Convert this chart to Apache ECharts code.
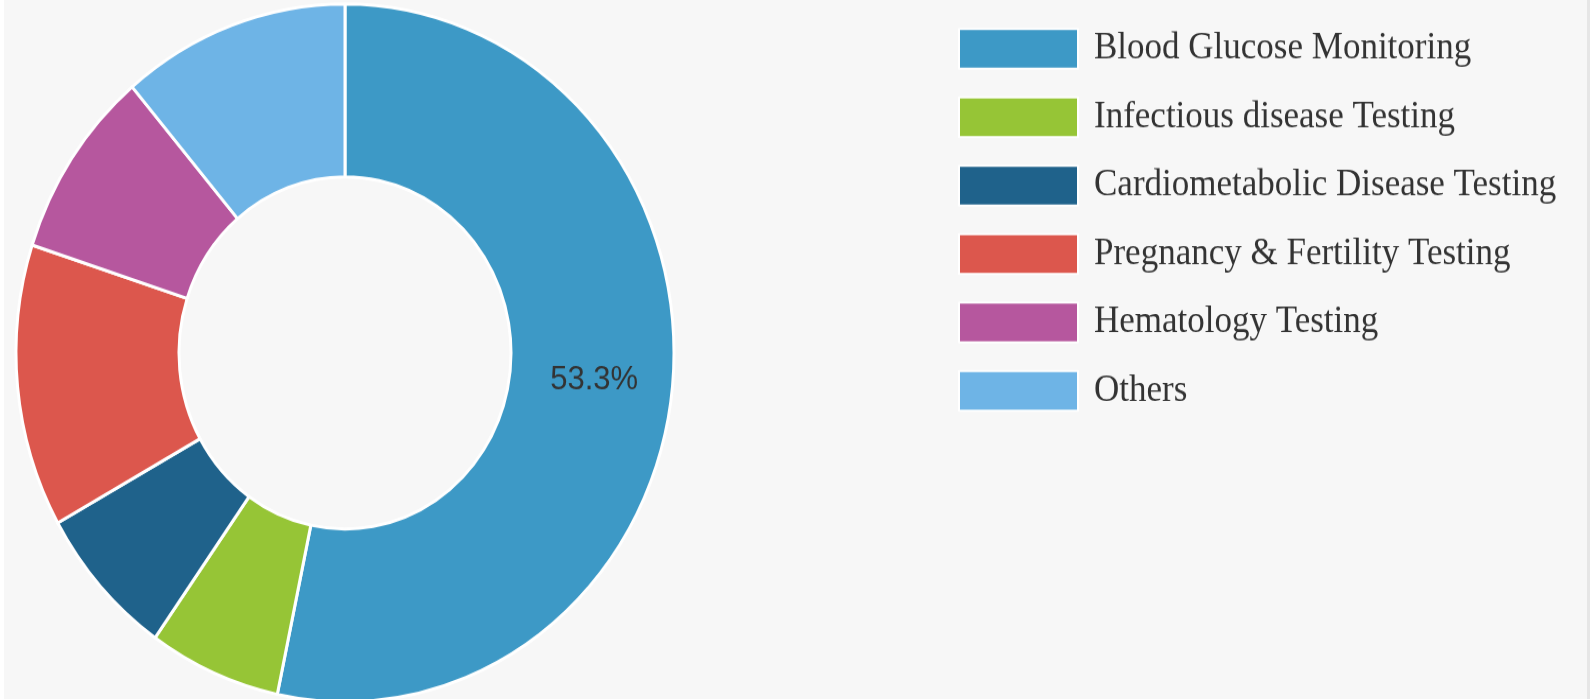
<!DOCTYPE html>
<html>
<head>
<meta charset="utf-8">
<script src="https://cdn.jsdelivr.net/npm/echarts@6/dist/echarts.min.js"></script>
<style>
  html, body { margin: 0; padding: 0; background: #ffffff; overflow: hidden; }
  #frame {
    position: absolute; left: 4px; top: 0;
    width: 1583px; height: 699px;
    background: #f7f7f7;
    border-right: 3px solid #e6e6e6;
    overflow: hidden;
  }
  /* the chart is laid out at 659px tall and stretched to the 699px frame */
  #chart {
    position: absolute; left: 0; top: 0;
    width: 1583px; height: 659px;
    transform: scaleY(1.0607);
    transform-origin: 0 0;
  }
</style>
</head>
<body>
<div id="frame"><div id="chart"></div></div>
<script>
// Market share by test type (%)
const categories = [
  'Blood Glucose Monitoring',
  'Infectious disease Testing',
  'Cardiometabolic Disease Testing',
  'Pregnancy & Fertility Testing',
  'Hematology Testing',
  'Others'
];
const shares = [53.3, 6.5, 7.1, 13.1, 8.8, 11.2];
const palette = ['#3d99c6', '#96c536', '#1f628b', '#dc574d', '#b6579e', '#6eb4e6'];
// only the leading segment carries a value label
const labelled = [true, false, false, false, false, false];

const chart = echarts.init(document.getElementById('chart'), null, { renderer: 'canvas' });

const data = categories.map((name, i) => ({
  name: name,
  value: shares[i],
  itemStyle: { color: palette[i] },
  label: { show: labelled[i] }
}));

chart.setOption({
  backgroundColor: '#f7f7f7',
  animation: false,
  legend: {
    orient: 'vertical',
    left: 954,
    top: 26.2,
    padding: 0,
    itemWidth: 119,
    itemHeight: 37.5,
    itemGap: 25.0,
    icon: 'rect',
    data: categories,
    textStyle: {
      fontFamily: '"Liberation Serif", "Times New Roman", serif',
      fontSize: 35,
      lineHeight: 36,
      color: '#333333',
      padding: [0, 0, 0, 11]
    }
  },
  series: [{
    type: 'pie',
    center: [341, 332.7],
    radius: [166, 329],
    startAngle: 90,
    clockwise: true,
    avoidLabelOverlap: false,
    itemStyle: { borderColor: '#ffffff', borderWidth: 3 },
    label: {
      position: 'inside',
      formatter: p => p.value.toFixed(1) + '%',
      fontFamily: '"Liberation Sans", Arial, sans-serif',
      fontSize: 31,
      color: '#333333'
    },
    labelLine: { show: false },
    emphasis: { disabled: true },
    data: data
  }]
});
</script>
</body>
</html>
